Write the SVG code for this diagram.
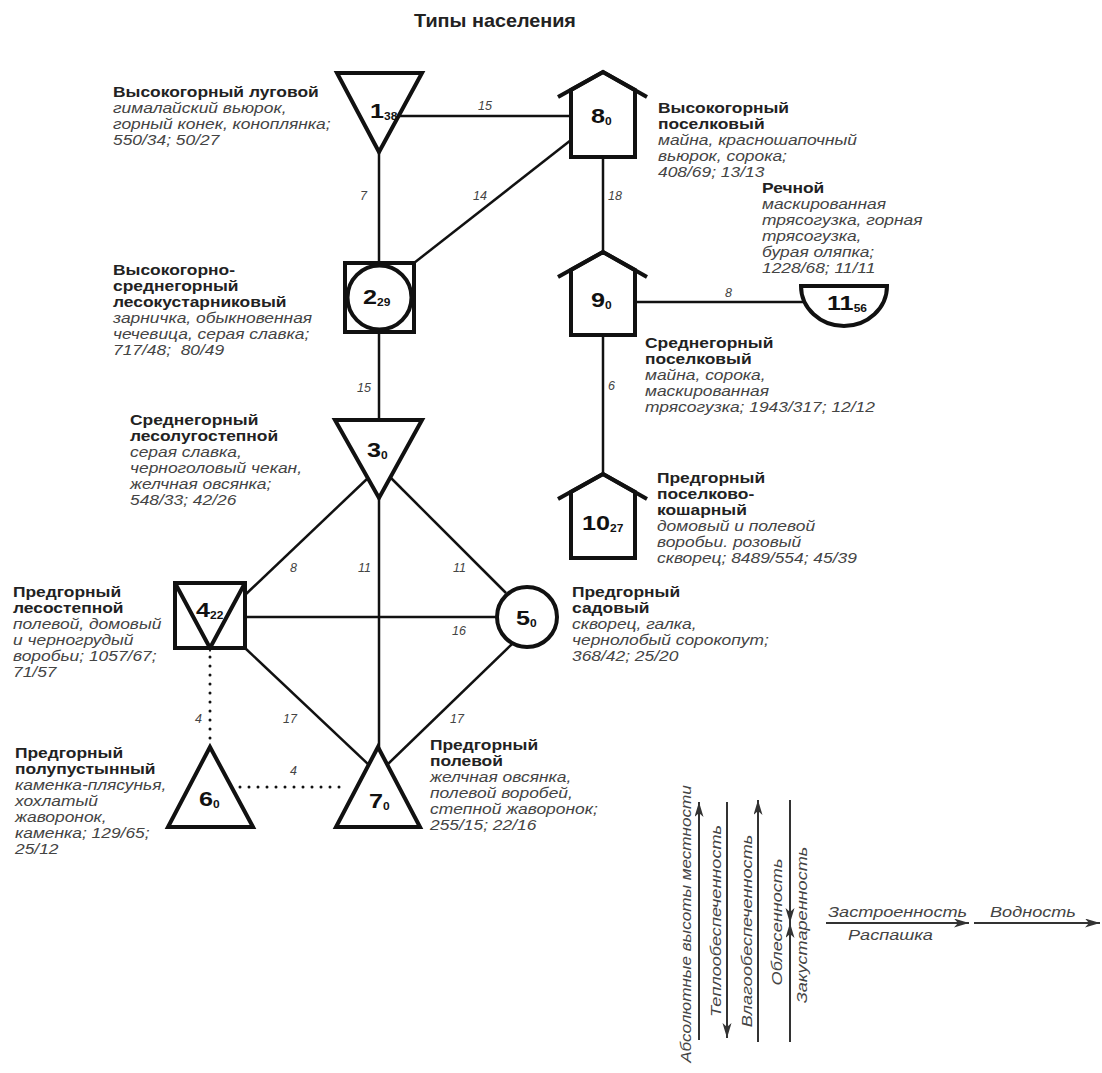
<svg xmlns="http://www.w3.org/2000/svg" width="1102" height="1073" viewBox="0 0 1102 1073">
<style>
.ln{stroke:#111;stroke-width:2.5;fill:none}
.dot{stroke:#111;stroke-width:3;stroke-linecap:round;stroke-dasharray:0 9;fill:none}
.nd{stroke:#111;stroke-width:4;fill:#fff;stroke-linejoin:miter}
.ndo{stroke:#111;stroke-width:4;fill:none;stroke-linejoin:miter}
.b{font-family:"Liberation Sans",Arial,sans-serif;font-weight:bold;font-size:14.5px;fill:#222}
.i{font-family:"Liberation Sans",Arial,sans-serif;font-style:italic;font-size:14.5px;fill:#444}
.el{font-family:"Liberation Sans",Arial,sans-serif;font-style:italic;font-size:12.5px;fill:#444}
.num{font-family:"Liberation Sans",Arial,sans-serif;font-weight:bold;font-size:21px;fill:#111}
.sub{font-size:10px}
.lg{font-family:"Liberation Sans",Arial,sans-serif;font-style:italic;font-size:14.5px;fill:#444}
.la{stroke:#333;stroke-width:2;fill:none}
.ttl{font-family:"Liberation Sans",Arial,sans-serif;font-weight:bold;font-size:18px;fill:#222}
</style>
<defs>
<marker id="ah" markerUnits="userSpaceOnUse" markerWidth="16" markerHeight="10" refX="15" refY="4.5" orient="auto">
<path d="M0,0 L15,4.5 L0,9 L4,4.5 Z" fill="#333"/>
</marker>
</defs>
<rect width="1102" height="1073" fill="#fff"/>
<text class="ttl" x="495" y="27" text-anchor="middle" transform="translate(495,0) scale(1.1,1) translate(-495,0)">Типы населения</text>

<g id="connectors">
<line class="ln" x1="399" y1="116" x2="571" y2="116"/>
<line class="ln" x1="379" y1="152" x2="379" y2="263"/>
<line class="ln" x1="414" y1="263" x2="571" y2="140"/>
<line class="ln" x1="379" y1="332" x2="379" y2="420"/>
<line class="ln" x1="603" y1="157" x2="603" y2="252"/>
<line class="ln" x1="635" y1="302" x2="804" y2="302"/>
<line class="ln" x1="603" y1="335" x2="603" y2="474"/>
<line class="ln" x1="368" y1="478" x2="245" y2="595"/>
<line class="ln" x1="391" y1="478" x2="506" y2="593"/>
<line class="ln" x1="379" y1="498" x2="379" y2="748"/>
<line class="ln" x1="245" y1="617" x2="497" y2="617"/>
<line class="ln" x1="245" y1="648" x2="369" y2="765"/>
<line class="ln" x1="512" y1="644" x2="388" y2="764"/>
<line class="dot" x1="210" y1="657" x2="210" y2="740"/>
<line class="dot" x1="240" y1="787" x2="348" y2="787"/>
<text class="el" x="478" y="110">15</text>
<text class="el" x="360" y="200">7</text>
<text class="el" x="473" y="200">14</text>
<text class="el" x="608" y="200">18</text>
<text class="el" x="725" y="297">8</text>
<text class="el" x="608" y="390">6</text>
<text class="el" x="357" y="392">15</text>
<text class="el" x="290" y="572">8</text>
<text class="el" x="358" y="572">11</text>
<text class="el" x="453" y="572">11</text>
<text class="el" x="452" y="635">16</text>
<text class="el" x="283" y="723">17</text>
<text class="el" x="195" y="723">4</text>
<text class="el" x="290" y="775">4</text>
<text class="el" x="450" y="723">17</text>
</g>

<g id="node1">
<polygon class="nd" points="337,73 422,73 379,152"/>
<text class="num" transform="translate(370,118) scale(1.2,1)">1<tspan class="sub" dy="2">38</tspan></text>
<g transform="translate(113,0) scale(1.2,1)">
<text class="b" x="0" y="97">Высокогорный луговой</text>
<text class="i" x="0" y="113">гималайский вьюрок,</text>
<text class="i" x="0" y="129">горный конек, коноплянка;</text>
<text class="i" x="0" y="145">550/34; 50/27</text>
</g>
</g>

<g id="node2">
<rect class="nd" x="345" y="263" width="69" height="69"/>
<circle class="ndo" cx="379.5" cy="297.5" r="32"/>
<text class="num" transform="translate(363,304) scale(1.2,1)">2<tspan class="sub" dy="2">29</tspan></text>
<g transform="translate(113,0) scale(1.2,1)">
<text class="b" x="0" y="275">Высокогорно-</text>
<text class="b" x="0" y="291">среднегорный</text>
<text class="b" x="0" y="307">лесокустарниковый</text>
<text class="i" x="0" y="323">зарничка, обыкновенная</text>
<text class="i" x="0" y="339">чечевица, серая славка;</text>
<text class="i" x="0" y="355">717/48;&#160; 80/49</text>
</g>
</g>

<g id="node3">
<polygon class="nd" points="335,420 422,420 379,498"/>
<text class="num" transform="translate(367,457) scale(1.2,1)">3<tspan class="sub" dy="2">0</tspan></text>
<g transform="translate(130,0) scale(1.2,1)">
<text class="b" x="0" y="425">Среднегорный</text>
<text class="b" x="0" y="441">лесолугостепной</text>
<text class="i" x="0" y="457">серая славка,</text>
<text class="i" x="0" y="473">черноголовый чекан,</text>
<text class="i" x="0" y="489">желчная овсянка;</text>
<text class="i" x="0" y="505">548/33; 42/26</text>
</g>
</g>

<g id="node4">
<rect class="nd" x="175" y="583" width="70" height="65"/>
<polyline class="ndo" points="175,583 210,648 245,583"/>
<text class="num" transform="translate(196,617) scale(1.2,1)">4<tspan class="sub" dy="2">22</tspan></text>
<g transform="translate(13,0) scale(1.2,1)">
<text class="b" x="0" y="597">Предгорный</text>
<text class="b" x="0" y="613">лесостепной</text>
<text class="i" x="0" y="629">полевой, домовый</text>
<text class="i" x="0" y="645">и черногрудый</text>
<text class="i" x="0" y="661">воробьи; 1057/67;</text>
<text class="i" x="0" y="677">71/57</text>
</g>
</g>

<g id="node5">
<circle class="nd" cx="527" cy="617" r="30"/>
<text class="num" transform="translate(516,625) scale(1.2,1)">5<tspan class="sub" dy="2">0</tspan></text>
<g transform="translate(572,0) scale(1.2,1)">
<text class="b" x="0" y="597">Предгорный</text>
<text class="b" x="0" y="613">садовый</text>
<text class="i" x="0" y="629">скворец, галка,</text>
<text class="i" x="0" y="645">чернолобый сорокопут;</text>
<text class="i" x="0" y="661">368/42; 25/20</text>
</g>
</g>

<g id="node6">
<polygon class="nd" points="210,747 168,827 253,827"/>
<text class="num" transform="translate(199,806) scale(1.2,1)">6<tspan class="sub" dy="2">0</tspan></text>
<g transform="translate(15,0) scale(1.2,1)">
<text class="b" x="0" y="758">Предгорный</text>
<text class="b" x="0" y="774">полупустынный</text>
<text class="i" x="0" y="790">каменка-плясунья,</text>
<text class="i" x="0" y="806">хохлатый</text>
<text class="i" x="0" y="822">жаворонок,</text>
<text class="i" x="0" y="838">каменка; 129/65;</text>
<text class="i" x="0" y="854">25/12</text>
</g>
</g>

<g id="node7">
<polygon class="nd" points="378,747 336,827 420,827"/>
<text class="num" transform="translate(369,808) scale(1.2,1)">7<tspan class="sub" dy="2">0</tspan></text>
<g transform="translate(430,0) scale(1.2,1)">
<text class="b" x="0" y="750">Предгорный</text>
<text class="b" x="0" y="766">полевой</text>
<text class="i" x="0" y="782">желчная овсянка,</text>
<text class="i" x="0" y="798">полевой воробей,</text>
<text class="i" x="0" y="814">степной жаворонок;</text>
<text class="i" x="0" y="830">255/15; 22/16</text>
</g>
</g>

<g id="node8">
<path class="nd" d="M571,90 L571,157 L635,157 L635,90 L603,72 Z"/>
<polyline class="ndo" points="558,97 603,72 647,97"/>
<text class="num" transform="translate(591,123) scale(1.2,1)">8<tspan class="sub" dy="2">0</tspan></text>
<g transform="translate(658,0) scale(1.2,1)">
<text class="b" x="0" y="113">Высокогорный</text>
<text class="b" x="0" y="129">поселковый</text>
<text class="i" x="0" y="145">майна, красношапочный</text>
<text class="i" x="0" y="161">вьюрок, сорока;</text>
<text class="i" x="0" y="177">408/69; 13/13</text>
</g>
</g>

<g id="node9">
<path class="nd" d="M571,270 L571,335 L635,335 L635,270 L603,252 Z"/>
<polyline class="ndo" points="558,277 603,252 647,277"/>
<text class="num" transform="translate(591,307) scale(1.2,1)">9<tspan class="sub" dy="2">0</tspan></text>
<g transform="translate(645,0) scale(1.2,1)">
<text class="b" x="0" y="348">Среднегорный</text>
<text class="b" x="0" y="364">поселковый</text>
<text class="i" x="0" y="380">майна, сорока,</text>
<text class="i" x="0" y="396">маскированная</text>
<text class="i" x="0" y="412">трясогузка; 1943/317; 12/12</text>
</g>
</g>

<g id="node10">
<path class="nd" d="M571,492 L571,558 L635,558 L635,492 L603,474 Z"/>
<polyline class="ndo" points="558,499 603,474 647,499"/>
<text class="num" transform="translate(582,530) scale(1.2,1)">10<tspan class="sub" dy="2">27</tspan></text>
<g transform="translate(657,0) scale(1.2,1)">
<text class="b" x="0" y="483">Предгорный</text>
<text class="b" x="0" y="499">поселково-</text>
<text class="b" x="0" y="515">кошарный</text>
<text class="i" x="0" y="531">домовый и полевой</text>
<text class="i" x="0" y="547">воробьи. розовый</text>
<text class="i" x="0" y="563">скворец; 8489/554; 45/39</text>
</g>
</g>

<g id="node11">
<path class="nd" d="M801,286 L887,286 A43,40 0 0 1 801,286 Z"/>
<text class="num" transform="translate(827,310) scale(1.2,1)">11<tspan class="sub" dy="2">56</tspan></text>
<g transform="translate(762,0) scale(1.2,1)">
<text class="b" x="0" y="193">Речной</text>
<text class="i" x="0" y="209">маскированная</text>
<text class="i" x="0" y="225">трясогузка, горная</text>
<text class="i" x="0" y="241">трясогузка,</text>
<text class="i" x="0" y="257">бурая оляпка;</text>
<text class="i" x="0" y="273">1228/68; 11/11</text>
</g>
</g>

<g id="legend">
<line class="la" x1="699" y1="1040" x2="699" y2="802" marker-end="url(#ah)"/>
<line class="la" x1="727" y1="802" x2="727" y2="1038" marker-end="url(#ah)"/>
<line class="la" x1="758" y1="1042" x2="758" y2="800" marker-end="url(#ah)"/>
<line class="la" x1="790" y1="800" x2="790" y2="923" marker-end="url(#ah)"/>
<line class="la" x1="790" y1="1042" x2="790" y2="923" marker-end="url(#ah)"/>
<line class="la" x1="826" y1="923" x2="969" y2="923" marker-end="url(#ah)"/>
<line class="la" x1="974" y1="923" x2="1100" y2="923" marker-end="url(#ah)"/>
<text class="lg" text-anchor="middle" transform="translate(691,924) rotate(-90) scale(1.18,1)">Абсолютные высоты местности</text>
<text class="lg" text-anchor="middle" transform="translate(721,921) rotate(-90) scale(1.25,1)">Теплообеспеченность</text>
<text class="lg" text-anchor="middle" transform="translate(752,931) rotate(-90) scale(1.25,1)">Влагообеспеченность</text>
<text class="lg" text-anchor="middle" transform="translate(782,922) rotate(-90) scale(1.25,1)">Облесенность</text>
<text class="lg" text-anchor="middle" transform="translate(807,925) rotate(-90) scale(1.25,1)">Закустаренность</text>
<text class="lg" transform="translate(828,917) scale(1.25,1)">Застроенность</text>
<text class="lg" transform="translate(848,940) scale(1.25,1)">Распашка</text>
<text class="lg" transform="translate(990,917) scale(1.25,1)">Водность</text>
</g>
</svg>
